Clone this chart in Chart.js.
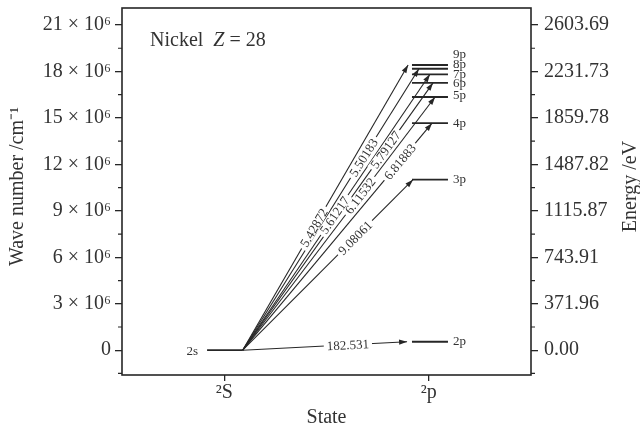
<!DOCTYPE html>
<html>
<head>
<meta charset="utf-8">
<script src="https://cdn.jsdelivr.net/npm/chart.js@4.4.1/dist/chart.umd.min.js"></script>
<style>
  html, body { margin: 0; padding: 0; background: #fff; }
  #wrap { width: 640px; height: 428px; }
</style>
</head>
<body>
<div id="wrap"><canvas id="levels" width="640" height="428"></canvas></div>
<script>
// Ni XXVI (Li-like) levels, 2s -> np transitions, wavelengths in Angstrom
const levelNames = ['2s', '2p', '3p', '4p', '5p', '6p', '7p', '8p', '9p'];
const levelWaveNumbers = [0, 0.547852e6, 11.0125e6, 14.6652e6, 16.3524e6, 17.2674e6, 17.8185e6, 18.1758e6, 18.4206e6];
const transitionLabels = ['182.531', '9.08061', '6.81883', '6.11532', '5.79127', '5.61217', '5.50183', '5.42872'];

// x positions in "state" units (2s column centred at 0.5, 2p column at 1.5)
const lowerLevelX = [0.416, 0.59];
const upperLevelX = [1.418, 1.594];
const arrowStartX = 0.59;
const arrowEndX = [1.394, 1.423, 1.516, 1.531, 1.521, 1.506, 1.452, 1.399];

const waveTicks = [0, 3e6, 6e6, 9e6, 12e6, 15e6, 18e6, 21e6];
const waveTickLabels = ['0', '3 × 10⁶', '6 × 10⁶', '9 × 10⁶', '12 × 10⁶', '15 × 10⁶', '18 × 10⁶', '21 × 10⁶'];
const energyTicks = [0, 371.96, 743.91, 1115.87, 1487.82, 1859.78, 2231.73, 2603.69];
const energyTickLabels = ['0.00', '371.96', '743.91', '1115.87', '1487.82', '1859.78', '2231.73', '2603.69'];
const xTickValues = [0.5, 1.5];
const xTickLabels = ['²S', '²p'];

const CM_PER_EV = 8065.54;
const Y_MIN = -1.6e6, Y_MAX = 22.1e6;

// label placement (fraction along each arrow, pixel nudges for crowded level names)
const labelAlong = [0.64, 0.66, 0.83, 0.61, 0.75, 0.49, 0.685, 0.43];
const nameNudge = [0, 0, 0, 0, -1, 1, 0, -4, -10];

const SERIF = "'Liberation Serif', 'Times New Roman', serif";
const INK = '#262626';
const TEXT = '#333';

const datasets = [];
levelNames.forEach((name, i) => {
  const xs = i === 0 ? lowerLevelX : upperLevelX;
  datasets.push({
    kind: 'level', label: name,
    data: xs.map(x => ({ x, y: levelWaveNumbers[i] })),
    borderColor: INK, borderWidth: 1.8
  });
});
transitionLabels.forEach((lab, i) => {
  datasets.push({
    kind: 'arrow', label: lab,
    data: [{ x: arrowStartX, y: levelWaveNumbers[0] }, { x: arrowEndX[i], y: levelWaveNumbers[i + 1] }],
    borderColor: INK, borderWidth: 1.1
  });
});
datasets.forEach(d => Object.assign(d, { showLine: true, pointRadius: 0, fill: false, tension: 0 }));

const fixTicks = values => scale => { scale.ticks = values.map(v => ({ value: v })); };
const noPad = size => s => {
  if (s.isHorizontal()) { s.height = size; s.paddingLeft = 0; s.paddingRight = 0; }
  else { s.width = size; s.paddingTop = 0; s.paddingBottom = 0; }
};

const diagramPlugin = {
  id: 'diagram',
  afterDatasetsDraw(chart) {
    const { ctx, chartArea: a, scales } = chart;
    ctx.save();

    // minor ticks on both y axes
    const step = waveTicks[1] - waveTicks[0];
    const minors = waveTicks.map(v => v - step / 2).concat([waveTicks[waveTicks.length - 1] + step / 2])
      .filter(v => v > Y_MIN && v < Y_MAX);
    ctx.strokeStyle = INK; ctx.lineWidth = 1.2;
    minors.forEach(v => {
      const py = scales.y.getPixelForValue(v);
      ctx.beginPath();
      ctx.moveTo(a.left - 4, py); ctx.lineTo(a.left, py);
      ctx.moveTo(a.right, py); ctx.lineTo(a.right + 4, py);
      ctx.stroke();
    });

    // frame
    ctx.lineWidth = 1.6;
    ctx.strokeRect(a.left, a.top, a.right - a.left, a.bottom - a.top);

    // arrowheads + rotated wavelength labels
    chart.data.datasets.forEach((ds, di) => {
      if (ds.kind !== 'arrow') return;
      const pts = chart.getDatasetMeta(di).data;
      const p0 = pts[0], p1 = pts[1];
      const ang = Math.atan2(p1.y - p0.y, p1.x - p0.x);
      const L = 8, W = 2.6;
      ctx.fillStyle = INK;
      ctx.beginPath();
      ctx.moveTo(p1.x, p1.y);
      ctx.lineTo(p1.x - L * Math.cos(ang) - W * Math.sin(ang), p1.y - L * Math.sin(ang) + W * Math.cos(ang));
      ctx.lineTo(p1.x - L * Math.cos(ang) + W * Math.sin(ang), p1.y - L * Math.sin(ang) - W * Math.cos(ang));
      ctx.closePath(); ctx.fill();

      const ti = di - levelNames.length;
      const t = labelAlong[ti];
      const cx = p0.x + t * (p1.x - p0.x), cy = p0.y + t * (p1.y - p0.y);
      ctx.save();
      ctx.translate(cx, cy);
      ctx.rotate(ang);
      ctx.font = '13px ' + SERIF;
      const w = ctx.measureText(ds.label).width;
      ctx.fillStyle = '#fff';
      ctx.fillRect(-w / 2 - 3, -5, w + 6, 10);
      ctx.fillStyle = TEXT;
      ctx.textAlign = 'center'; ctx.textBaseline = 'middle';
      ctx.fillText(ds.label, 0, 1);
      ctx.restore();
    });

    // level names
    ctx.font = '13px ' + SERIF;
    ctx.fillStyle = TEXT;
    ctx.textBaseline = 'middle';
    chart.data.datasets.forEach((ds, di) => {
      if (ds.kind !== 'level') return;
      const pts = chart.getDatasetMeta(di).data;
      if (di === 0) {
        ctx.textAlign = 'right';
        ctx.fillText(ds.label, pts[0].x - 9, pts[0].y + nameNudge[di] + 1);
      } else {
        ctx.textAlign = 'left';
        ctx.fillText(ds.label, pts[1].x + 5, pts[1].y + nameNudge[di]);
      }
    });

    // element annotation
    ctx.textAlign = 'left';
    ctx.textBaseline = 'middle';
    let x = a.left + 28;
    const y = a.top + 33;
    ctx.font = '20px ' + SERIF;
    ctx.fillText('Nickel  ', x, y); x += ctx.measureText('Nickel  ').width;
    ctx.font = 'italic 20px ' + SERIF;
    ctx.fillText('Z', x, y); x += ctx.measureText('Z').width;
    ctx.font = '20px ' + SERIF;
    ctx.fillText(' = 28', x, y);

    // axis titles (both read bottom-to-top)
    const midY = (a.top + a.bottom) / 2 - 5;
    [['Wave number /cm⁻¹', 18], ['Energy /eV', 631]].forEach(([txt, tx]) => {
      ctx.save();
      ctx.translate(tx, midY);
      ctx.rotate(-Math.PI / 2);
      ctx.textAlign = 'center';
      ctx.fillText(txt, 0, 0);
      ctx.restore();
    });

    ctx.restore();
  }
};

const tickGrid = len => ({ display: true, drawOnChartArea: false, drawTicks: true, tickLength: len, color: INK, lineWidth: 1.3 });

new Chart(document.getElementById('levels'), {
  type: 'scatter',
  data: { datasets },
  options: {
    responsive: false,
    animation: false,
    devicePixelRatio: 1,
    layout: { padding: { top: 8, left: 0, right: 0, bottom: 0 } },
    plugins: { legend: { display: false }, tooltip: { enabled: false } },
    scales: {
      x: {
        type: 'linear', min: 0, max: 2,
        afterBuildTicks: fixTicks(xTickValues),
        afterFit: noPad(53),
        ticks: { callback: (v, i) => xTickLabels[i], font: { family: SERIF, size: 20 }, color: TEXT,
                 padding: 0, autoSkip: false, maxRotation: 0 },
        grid: tickGrid(6),
        border: { display: false },
        title: { display: true, text: 'State', font: { family: SERIF, size: 20, lineHeight: 1 }, color: TEXT, padding: 0 }
      },
      y: {
        type: 'linear', position: 'left', min: Y_MIN, max: Y_MAX,
        afterBuildTicks: fixTicks(waveTicks),
        afterFit: noPad(122),
        ticks: { callback: (v, i) => waveTickLabels[i], font: { family: SERIF, size: 20 }, color: TEXT, padding: 4 },
        grid: tickGrid(7),
        border: { display: false }
      },
      y2: {
        type: 'linear', position: 'right', min: Y_MIN / CM_PER_EV, max: Y_MAX / CM_PER_EV,
        afterBuildTicks: fixTicks(energyTicks),
        afterFit: noPad(109),
        ticks: { callback: (v, i) => energyTickLabels[i], font: { family: SERIF, size: 20 }, color: TEXT, padding: 6 },
        grid: tickGrid(7),
        border: { display: false }
      }
    }
  },
  plugins: [diagramPlugin]
});
</script>
</body>
</html>
